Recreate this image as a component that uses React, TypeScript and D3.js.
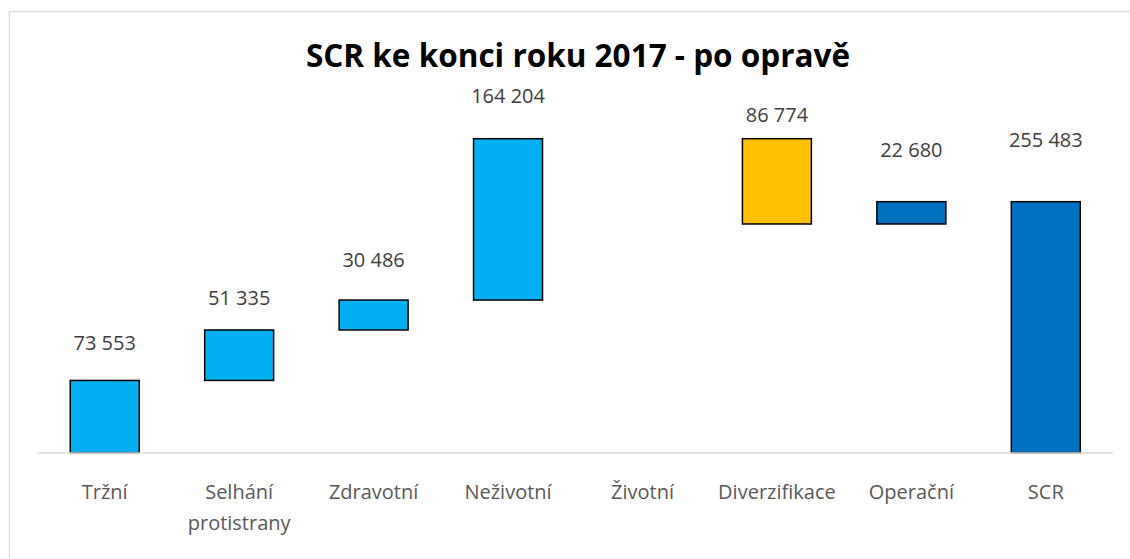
import React from "react";
import * as d3 from "d3";

const categories = ["Tržní", "Selhání protistrany", "Zdravotní", "Neživotní", "Životní", "Diverzifikace", "Operační", "SCR"];
const deltas = [73553, 51335, 30486, 164204, 0, -86774, 22680, 255483];
const kinds = ["risk", "risk", "risk", "risk", "risk", "div", "op", "total"];
const labelTexts = ["73 553", "51 335", "30 486", "164 204", "", "86 774", "22 680", "255 483"];
// data value (same units as bars) at which each label's baseline sits
const labelAt = [104500, 150300, 188500, 356000, 0, 336600, 301000, 311000];
const yMax = 350000;

const colors: Record<string, string> = { risk: "#00B0F0", div: "#FFC000", op: "#0070C0", total: "#0070C0" };

export default function App() {
  const W = 1130, H = 559;
  const x = d3.scaleBand<string>().domain(categories).range([37.5, 1113]).paddingInner(0.487).paddingOuter(0.2435);
  const y = d3.scaleLinear().domain([0, yMax]).range([452.7, 452.7 - 350 * 0.9825]);

  let run = 0;
  const bars = categories.map((c, i) => {
    let lo: number, hi: number;
    if (kinds[i] === "total") { lo = 0; hi = deltas[i]; }
    else { const s = run; run += deltas[i]; lo = Math.min(s, run); hi = Math.max(s, run); }
    return { c, lo, hi, kind: kinds[i], i };
  });

  const font = "'Open Sans', sans-serif";
  return (
    <svg width={W} height={H} style={{ position: "absolute", left: 0, top: 0 }}>
      <rect x={0} y={0} width={W} height={H} fill="#fff" />
      <rect x={9.5} y={11.5} width={1200} height={700} fill="#fff" stroke="#d9d9d9" strokeWidth={1.3} />
      <text x={578} y={67} textAnchor="middle" fontFamily={font} fontWeight={700} fontSize={31.5} fill="#000">
        SCR ke konci roku 2017 - po opravě
      </text>
      {bars.filter(b => b.hi - b.lo > 0).map(b => (
        <rect key={b.c} x={x(b.c)!} y={y(b.hi)} width={x.bandwidth()} height={y(b.lo) - y(b.hi)}
          fill={colors[b.kind]} stroke="#000" strokeWidth={1.5} />
      ))}
      <line x1={37.5} x2={1113} y1={453} y2={453} stroke="#d9d9d9" strokeWidth={1.5} />
      {bars.map(b => labelTexts[b.i] ? (
        <text key={"l" + b.c} x={x(b.c)! + x.bandwidth() / 2} y={y(labelAt[b.i])} textAnchor="middle"
          fontFamily={font} fontSize={20} fill="#404040">{labelTexts[b.i]}</text>
      ) : null)}
      {categories.map(c => {
        const lines = c === "Selhání protistrany" ? ["Selhání", "protistrany"] : [c];
        return (
          <text key={"a" + c} x={x(c)! + x.bandwidth() / 2} y={499} textAnchor="middle"
            fontFamily={font} fontSize={20} fill="#595959">
            {lines.map((t, k) => <tspan key={k} x={x(c)! + x.bandwidth() / 2} dy={k === 0 ? 0 : 31}>{t}</tspan>)}
          </text>
        );
      })}
    </svg>
  );
}
